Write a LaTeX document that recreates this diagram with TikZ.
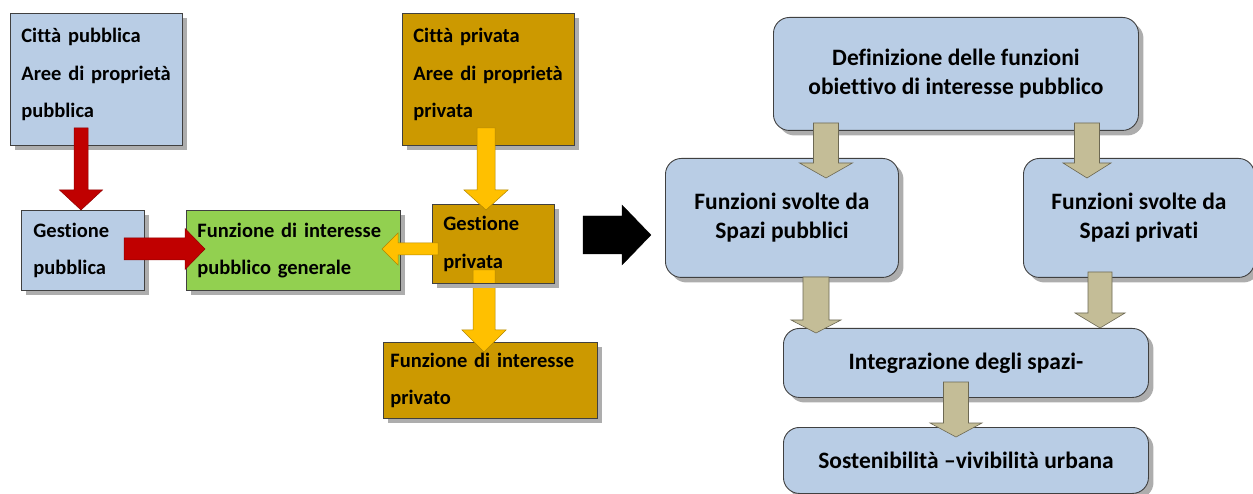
\documentclass[tikz,border=0pt]{standalone}
\usepackage{fontspec}
\setmainfont[Ligatures={NoCommon,NoContextual}]{Carlito}
\usetikzlibrary{calc,shadows}
\definecolor{boxblue}{HTML}{B9CDE5}
\definecolor{boxgold}{HTML}{CC9900}
\definecolor{boxgreen}{HTML}{92D050}
\definecolor{edgegray}{HTML}{404040}
\definecolor{arrred}{HTML}{C00000}
\definecolor{arryel}{HTML}{FFC000}
\definecolor{arrtan}{HTML}{C4BD97}
\definecolor{shadowgray}{HTML}{ADADAD}
% block arrow: #1 start, #2 tip, #3 shaft half width, #4 head half width, #5 head length, #6 style
\newcommand\blockarrow[6]{%
  \coordinate (bahead) at ($(#2)!#5!(#1)$);
  \draw[#6] ($(#1)!#3!90:(#2)$) -- ($(bahead)!#3!90:(#2)$) -- ($(bahead)!#4!90:(#2)$) -- (#2)
    -- ($(bahead)!#4!-90:(#2)$) -- ($(bahead)!#3!-90:(#2)$) -- ($(#1)!#3!-90:(#2)$) -- cycle;}
\tikzset{
  shbox/.style={drop shadow={shadow xshift=5pt,shadow yshift=-5pt,fill=shadowgray,opacity=1}},
  sqbox/.style={draw=edgegray, line width=0.8pt, inner sep=0pt, anchor=north west, align=left, shbox,
    font=\bfseries\fontsize{20.5}{37.5}\selectfont},
  rbox/.style={draw=edgegray, line width=0.9pt, rounded corners=16pt, inner sep=0pt, anchor=north west,
    align=center, fill=boxblue, shbox, font=\bfseries\fontsize{23.5}{29}\selectfont},
  redarrow/.style={fill=arrred, draw=arrred!75!black, line width=0.5pt},
  yelarrow/.style={fill=arryel, draw=arryel!70!black, line width=0.5pt},
  tanarrow/.style={fill=arrtan, draw=arrtan!55!black, line width=0.6pt},
  blkarrow/.style={fill=black, draw=black, line width=0.3pt},
}
\begin{document}
\begin{tikzpicture}[x=1pt,y=-1pt]
\fill[white] (0,0) rectangle (1253,494);
\useasboundingbox (0,0) rectangle (1253,494);

% arrow end points
\coordinate (r1s) at (81,128);  \coordinate (r1e) at (81,210);
\coordinate (r2s) at (124,249); \coordinate (r2e) at (205,249);
\coordinate (y1s) at (486,128); \coordinate (y1e) at (486,210);
\coordinate (y2s) at (438,249); \coordinate (y2e) at (382,249);
\coordinate (y3s) at (484,270); \coordinate (y3e) at (484,352);
\coordinate (bks) at (583,235); \coordinate (bke) at (651,235);
\coordinate (t1s) at (826,123); \coordinate (t1e) at (826,178);
\coordinate (t2s) at (1087,123); \coordinate (t2e) at (1087,178);
\coordinate (t3s) at (816,277); \coordinate (t3e) at (816,333);
\coordinate (t4s) at (1100,272); \coordinate (t4e) at (1100,328);
\coordinate (t5s) at (956,382); \coordinate (t5e) at (956,437);

% left part
\node[sqbox, fill=boxblue, minimum width=172pt, minimum height=132pt, text width=150pt] (pubA) at (10,13)
  {Città pubblica\\Aree di proprietà\\pubblica\rule[-13pt]{0pt}{1pt}};
\node[sqbox, fill=boxblue, minimum width=123pt, minimum height=80pt, text width=99pt] (gestPub) at (21,210)
  {Gestione\\pubblica};
\node[sqbox, fill=boxgreen, minimum width=214pt, minimum height=80pt, text width=192pt] (funzPub) at (186,210)
  {\makebox[192pt][s]{Funzione di interesse}\\pubblico generale};
\node[sqbox, fill=boxgold, minimum width=172pt, minimum height=132pt, text width=150pt] (privA) at (402,13)
  {Città privata\\Aree di proprietà\\privata\rule[-13pt]{0pt}{1pt}};
\node[sqbox, fill=boxgold, minimum width=214pt, minimum height=76pt, text width=200pt] (funzPriv) at (383,342)
  {\makebox[200pt][s]{Funzione di interesse}\\privato};
\blockarrow{y3s}{y3e}{11pt}{22pt}{22pt}{yelarrow}
\node[sqbox, fill=boxgold, minimum width=122pt, minimum height=79pt, text width=100pt,
  path picture={\blockarrow{y3s}{y3e}{11pt}{22pt}{22pt}{yelarrow}}] (gestPriv) at (432,204)
  {Gestione\\privata};

% right part
\node[rbox, minimum width=365pt, minimum height=113pt] (def) at (773,17)
  {Definizione delle funzioni\\obiettivo di interesse pubblico};
\node[rbox, minimum width=233pt, minimum height=119pt] (sp1) at (665,158)
  {Funzioni svolte da\\Spazi pubblici};
\node[rbox, minimum width=231pt, minimum height=119pt] (sp2) at (1023,158)
  {Funzioni svolte da\\Spazi privati};
\node[rbox, minimum width=365pt, minimum height=69pt] (integ) at (783,328)
  {Integrazione degli spazi-};
\node[rbox, minimum width=365pt, minimum height=66pt] (sost) at (783,427)
  {Sostenibilità –vivibilità urbana};

% arrows
\blockarrow{r1s}{r1e}{7pt}{21.5pt}{20pt}{redarrow}
\blockarrow{r2s}{r2e}{11pt}{20.5pt}{20pt}{redarrow}
\blockarrow{y1s}{y1e}{9pt}{22pt}{20pt}{yelarrow}
\blockarrow{y2s}{y2e}{6pt}{16pt}{16pt}{yelarrow}
\blockarrow{bks}{bke}{19pt}{30pt}{29pt}{blkarrow}
\blockarrow{t1s}{t1e}{12.5pt}{26.5pt}{15pt}{tanarrow}
\blockarrow{t2s}{t2e}{12.5pt}{24pt}{15pt}{tanarrow}
\blockarrow{t3s}{t3e}{13pt}{25pt}{13pt}{tanarrow}
\blockarrow{t4s}{t4e}{12pt}{25pt}{15pt}{tanarrow}
\blockarrow{t5s}{t5e}{12.5pt}{26pt}{14pt}{tanarrow}
\end{tikzpicture}
\end{document}
